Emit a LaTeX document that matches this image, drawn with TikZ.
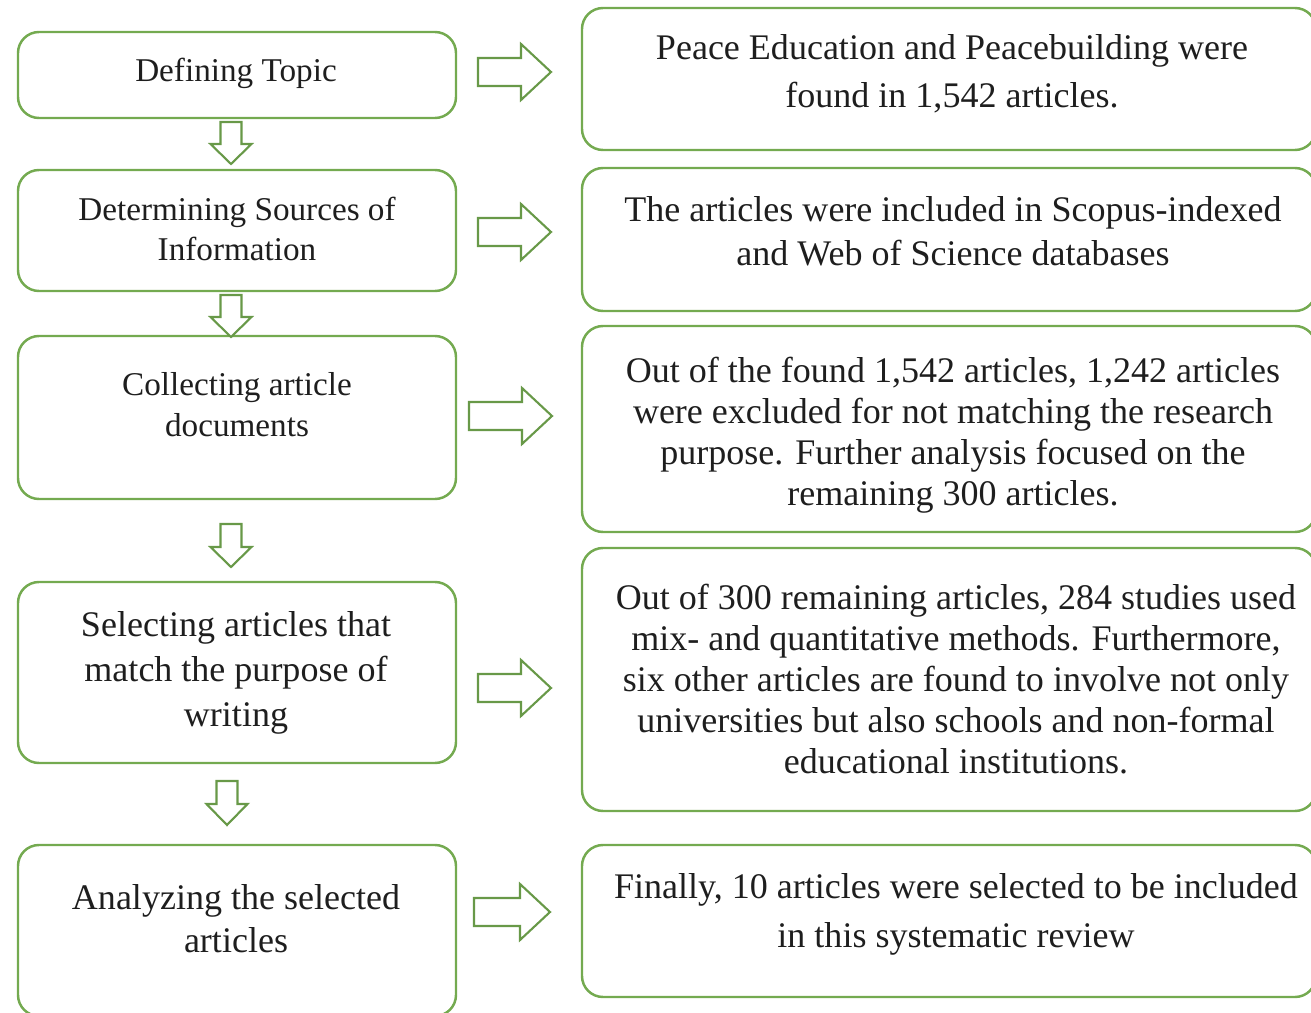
\documentclass[tikz,border=0pt]{standalone}
\usepackage{fontspec}
\setmainfont{Liberation Serif}
\usetikzlibrary{fit}
\definecolor{gline}{RGB}{116,170,80}
\definecolor{txtc}{RGB}{30,30,30}
\begin{document}
\begin{tikzpicture}[x=0.02cm,y=-0.02cm,
  box/.style={draw=gline,line width=1.4pt,rounded corners=0.42cm,inner sep=0pt},
  arr/.style={draw=gline!90!black,line width=1.2pt,fill=white,line join=miter},
  txt/.style={align=center,text=txtc,inner sep=0pt},
  fs/.style={font=\fontsize{20.5}{#1}\selectfont},
  fss/.style={font=\fontsize{18.9}{#1}\selectfont}]
\useasboundingbox (0,0) rectangle (1311,1013);
\clip (0,0) rectangle (1311,1013);
% left boxes
\node[box,fit={(18,32)(456,118)}] (L1) {};
\node[box,fit={(18,170)(456,291)}] (L2) {};
\node[box,fit={(18,336)(456,499)}] (L3) {};
\node[box,fit={(18,582)(456,763)}] (L4) {};
\node[box,fit={(18,845)(456,1016)}] (L5) {};
% right boxes
\node[box,fit={(582,8)(1316,150)}] (R1) {};
\node[box,fit={(582,168)(1316,311)}] (R2) {};
\node[box,fit={(582,326)(1316,532)}] (R3) {};
\node[box,fit={(582,548)(1316,811)}] (R4) {};
\node[box,fit={(582,845)(1316,997)}] (R5) {};
% texts
\node[txt,fss=23.3] (tL1) at (236,73) {Defining Topic};
\node[txt,fss=23.3] (tL2) at (237,229) {Determining Sources of\\Information};
\node[txt,fss=23.3] (tL3) at (237,405) {Collecting article\\documents};
\node[txt,fs=25.5] (tL4) at (236,673) {Selecting articles that\\match the purpose of\\writing};
\node[txt,fs=24.4] (tL5) at (236,919) {Analyzing the selected\\articles};
\node[txt,fs=27.2] (tR1) at (952,74) {Peace Education and Peacebuilding were\\found in 1,542 articles.};
\node[txt,fs=25] (tR2) at (953,231) {The articles were included in Scopus-indexed\\and Web of Science databases};
\node[txt,fs=23.3] (tR3) at (953,435) {Out of the found 1,542 articles, 1,242 articles\\were excluded for not matching the research\\purpose. Further analysis focused on the\\remaining 300 articles.};
\node[txt,fs=23.3] (tR4) at (956,679) {Out of 300 remaining articles, 284 studies used\\mix- and quantitative methods. Furthermore,\\six other articles are found to involve not only\\universities but also schools and non-formal\\educational institutions.};
\node[txt,fs=27.8] (tR5) at (956,914) {Finally, 10 articles were selected to be included\\in this systematic review};
% right block arrows (L -> R)
\draw[arr,shift={(514,72)}] (-36,-14) -- (7,-14) -- (7,-28) -- (37,0) -- (7,28) -- (7,14) -- (-36,14) -- cycle;
\draw[arr,shift={(514,232)}] (-36,-14) -- (7,-14) -- (7,-28) -- (37,0) -- (7,28) -- (7,14) -- (-36,14) -- cycle;
\draw[arr,shift={(514,416)}] (-45,-14) -- (8,-14) -- (8,-28) -- (38,0) -- (8,28) -- (8,14) -- (-45,14) -- cycle;
\draw[arr,shift={(514,688)}] (-36,-14) -- (7,-14) -- (7,-28) -- (37,0) -- (7,28) -- (7,14) -- (-36,14) -- cycle;
\draw[arr,shift={(512,912)}] (-38,-14) -- (8,-14) -- (8,-28) -- (38,0) -- (8,28) -- (8,14) -- (-38,14) -- cycle;
% down block arrows
\draw[arr,shift={(231,122)}] (-10.5,0) -- (-10.5,22) -- (-20.5,22) -- (0,42) -- (20.5,22) -- (10.5,22) -- (10.5,0) -- cycle;
\draw[arr,shift={(231,295)}] (-10.5,0) -- (-10.5,22) -- (-20.5,22) -- (0,42) -- (20.5,22) -- (10.5,22) -- (10.5,0) -- cycle;
\draw[arr,shift={(231,524)}] (-10.5,0) -- (-10.5,23) -- (-20.5,23) -- (0,43) -- (20.5,23) -- (10.5,23) -- (10.5,0) -- cycle;
\draw[arr,shift={(227,781)}] (-10.5,0) -- (-10.5,23) -- (-20.5,23) -- (0,44) -- (20.5,23) -- (10.5,23) -- (10.5,0) -- cycle;
\end{tikzpicture}
\end{document}
